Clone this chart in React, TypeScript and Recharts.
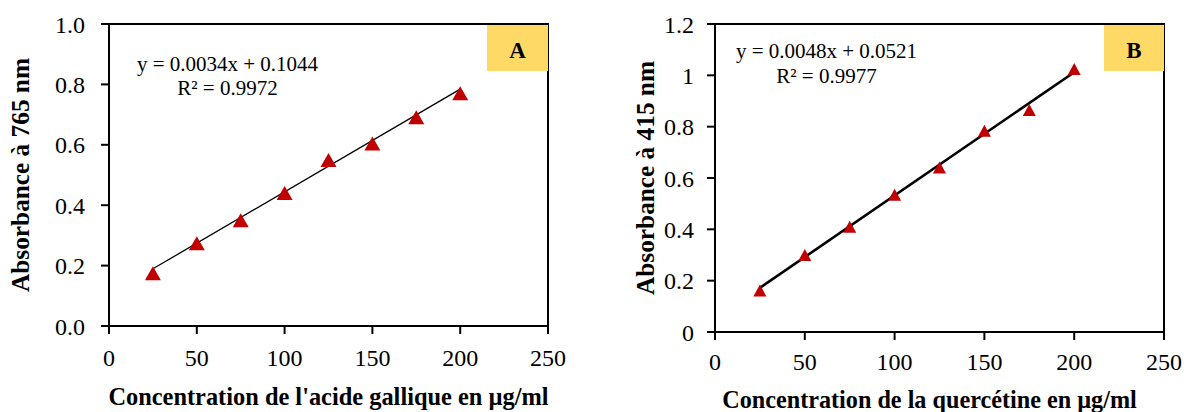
import { ComposedChart, XAxis, YAxis, Line, Scatter, ReferenceArea } from 'recharts';

const FONT = '"Liberation Serif", "Times New Roman", serif';

// concentrations (µg/ml)
const concentrations = [25, 50, 75, 100, 125, 150, 175, 200];
// absorbance readings
const absGallique = [0.175, 0.274, 0.35, 0.44, 0.55, 0.604, 0.691, 0.771];
const absQuercetine = [0.162, 0.3, 0.41, 0.535, 0.641, 0.784, 0.865, 1.025];
// trend line end points (x = 25 and x = 200)
const trendX = [25, 200];
const trendGallique = [0.1894, 0.7844];
const trendQuercetine = [0.1721, 1.0121];

const xTicks = [0, 50, 100, 150, 200, 250];
const yTicksA = [0, 0.2, 0.4, 0.6, 0.8, 1.0];
const yTicksB = [0, 0.2, 0.4, 0.6, 0.8, 1, 1.2];

const ptsA = concentrations.map((x, i) => ({ x, y: absGallique[i] }));
const ptsB = concentrations.map((x, i) => ({ x, y: absQuercetine[i] }));
const lineA = trendX.map((x, i) => ({ x, y: trendGallique[i] }));
const lineB = trendX.map((x, i) => ({ x, y: trendQuercetine[i] }));

const triangle = (w: number, h: number) => (props: any) => {
  const { cx, cy } = props;
  return (
    <polygon
      points={`${cx - w / 2},${cy + h / 2} ${cx + w / 2},${cy + h / 2} ${cx},${cy - h / 2}`}
      fill="#C00000"
    />
  );
};

const tickStyle = { fill: '#000', fontSize: 24, fontFamily: FONT };
const title = (size: number, shift = 0) => ({
  fill: '#000', fontSize: size, fontWeight: 'bold', fontFamily: FONT, textAnchor: 'middle' as const,
  transform: shift ? `translateX(${shift}px)` : undefined,
});
const axisLine = { stroke: '#000', strokeWidth: 2 };

function EqBox({ left, top, lh, eq, r2 }: { left: number; top: number; lh: number; eq: string; r2: string }) {
  return (
    <div
      style={{
        position: 'absolute', left: left - 110, top, width: 220, textAlign: 'center',
        fontFamily: FONT, fontSize: 21, lineHeight: `${lh}px`, color: '#000',
      }}
    >
      <div>{eq}</div>
      <div>{r2}</div>
    </div>
  );
}

function Tag({ left, width, text }: { left: number; width: number; text: string }) {
  return (
    <div
      style={{
        position: 'absolute', left, top: 25, width, height: 41, paddingTop: 5, background: '#FFD966',
        textAlign: 'center', fontFamily: FONT, fontWeight: 'bold', fontSize: 23, lineHeight: '41px', color: '#000',
      }}
    >
      {text}
    </div>
  );
}

export default function App() {
  return (
    <div style={{ position: 'fixed', left: 0, top: 0, width: 1184, height: 412, background: '#fff', overflow: 'hidden', fontFamily: FONT }}>
      <style>{`svg text, .recharts-text { font-family: "Liberation Serif", "Times New Roman", serif !important; }`}</style>
      <div style={{ position: 'absolute', left: 0, top: 0 }}>
        <ComposedChart width={600} height={412} margin={{ top: 24, right: 52, bottom: 0, left: 0 }} style={{ fontFamily: FONT }}>
          <XAxis
            dataKey="x" type="number" domain={[0, 250]} ticks={xTicks} interval={0}
            axisLine={axisLine} tickLine={axisLine} tickSize={8} tickMargin={15} height={86} tick={tickStyle}
            label={{ value: "Concentration de l'acide gallique en µg/ml", position: 'insideBottom', offset: 7, style: title(24.4) }}
          />
          <YAxis
            type="number" domain={[0, 1]} ticks={yTicksA} interval={0} width={109}
            tickFormatter={(v: number) => v.toFixed(1)}
            axisLine={axisLine} tickLine={axisLine} tickSize={8} tickMargin={16} tick={tickStyle}
            label={{ value: 'Absorbance à 765 nm', angle: -90, position: 'insideLeft', offset: 20, style: title(25.3) }}
          />
          <ReferenceArea x1={0} x2={250} y1={0} y2={1} fill="none" stroke="#000" strokeWidth={2} />
          <Line data={lineA} dataKey="y" stroke="#000" strokeWidth={1.3} dot={false} isAnimationActive={false} />
          <Scatter data={ptsA} dataKey="y" shape={triangle(16, 14)} isAnimationActive={false} />
        </ComposedChart>
      </div>
      <div style={{ position: 'absolute', left: 600, top: 0 }}>
        <ComposedChart width={584} height={412} margin={{ top: 24, right: 20, bottom: 0, left: 0 }} style={{ fontFamily: FONT }}>
          <XAxis
            dataKey="x" type="number" domain={[0, 250]} ticks={xTicks} interval={0}
            axisLine={axisLine} tickLine={axisLine} tickSize={8} tickMargin={13} height={80} tick={tickStyle}
            label={{ value: 'Concentration de la quercétine en µg/ml', position: 'insideBottom', offset: 4, style: title(24.2, -10) }}
          />
          <YAxis
            type="number" domain={[0, 1.2]} ticks={yTicksB} interval={0} width={115}
            tickFormatter={(v: number) => String(v)}
            axisLine={axisLine} tickLine={axisLine} tickSize={8} tickMargin={13} tick={tickStyle}
            label={{ value: 'Absorbance à 415 nm', angle: -90, position: 'insideLeft', offset: 45, style: title(25.3) }}
          />
          <ReferenceArea x1={0} x2={250} y1={0} y2={1.2} fill="none" stroke="#000" strokeWidth={2} />
          <Line data={lineB} dataKey="y" stroke="#000" strokeWidth={2.6} dot={false} isAnimationActive={false} />
          <Scatter data={ptsB} dataKey="y" shape={triangle(13, 12)} isAnimationActive={false} />
        </ComposedChart>
      </div>
      <EqBox left={227.5} top={52} lh={24} eq="y = 0.0034x + 0.1044" r2="R² = 0.9972" />
      <EqBox left={826.5} top={39} lh={25} eq="y = 0.0048x + 0.0521" r2="R² = 0.9977" />
      <Tag left={487} width={61} text="A" />
      <Tag left={1104} width={60} text="B" />
    </div>
  );
}
